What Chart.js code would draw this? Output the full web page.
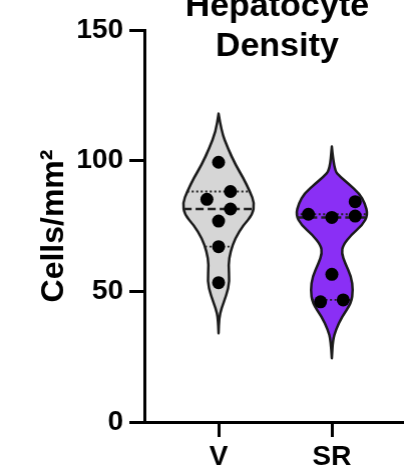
<!DOCTYPE html>
<html>
<head>
<meta charset="utf-8">
<script src="https://cdn.jsdelivr.net/npm/chart.js@4"></script>
<style>
  html, body { margin: 0; padding: 0; background: #fff; overflow: hidden; }
  #wrap { width: 410.5px; height: 469px; }
</style>
</head>
<body>
<div id="wrap"><canvas id="chart"></canvas></div>
<script>
// Hepatocyte density violin plot (V vs SR)
const groups = ['V', 'SR'];
const titleLines = ['Hepatocyte', 'Density'];
const yTicks = [0, 50, 100, 150];

// individual animals
const vValues = [99.4, 88.2, 85.2, 81.5, 76.9, 67.1, 53.3];
const vJitter = [0, 0.105, -0.103, 0.105, 0, 0, 0];
const srValues = [84.3, 79.5, 78.3, 78.8, 56.5, 46.0, 46.7];
const srJitter = [0.206, -0.207, 0, 0.206, 0, -0.10, 0.10];

// summary lines
const medians = [81.5, 78.3];
const lowerQuartiles = [67.1, 46.7];
const upperQuartiles = [88.2, 79.5];

// violin outlines: value levels and relative half width
const vProfileY = [118.0, 111.1, 104.7, 98.4, 93.3, 88.2, 83.7, 79.2, 75.4, 70.3, 65.2, 60.1, 53.7, 48.6, 43.5, 39.7, 34.0];
const vProfileW = [0, 0.08, 0.26, 0.47, 0.69, 0.87, 1.0, 0.94, 0.69, 0.46, 0.33, 0.27, 0.31, 0.22, 0.08, 0.015, 0];
const srProfileY = [105.4, 96.4, 93.9, 91.3, 87.5, 83.7, 79.2, 75.4, 71.6, 67.7, 64.6, 60.7, 55.6, 50.5, 45.4, 40.3, 35.2, 31.4, 24.4];
const srProfileW = [0, 0.06, 0.23, 0.45, 0.76, 0.92, 1.0, 0.85, 0.54, 0.31, 0.27, 0.37, 0.54, 0.59, 0.54, 0.28, 0.11, 0.03, 0];

const FONT = '"Liberation Sans", Arial, Helvetica, sans-serif';
const violinFills = ['#d6d6d6', '#8a2ff5'];
const halfWidth = 0.318; // in x-axis units

const profiles = [
  { ys: vProfileY, ws: vProfileW },
  { ys: srProfileY, ws: srProfileW }
];

function widthAt(p, v){
  for (let i = 0; i < p.ys.length - 1; i++){
    const a = p.ys[i], b = p.ys[i+1];
    if (v <= a && v >= b){
      const t = (a - v) / (a - b);
      return p.ws[i] + (p.ws[i+1] - p.ws[i]) * t;
    }
  }
  return 0;
}

function smoothThrough(ctx, pts){
  ctx.lineTo(pts[0].x, pts[0].y);
  for (let i = 1; i < pts.length - 1; i++){
    const mx = (pts[i].x + pts[i+1].x) / 2, my = (pts[i].y + pts[i+1].y) / 2;
    ctx.quadraticCurveTo(pts[i].x, pts[i].y, mx, my);
  }
  const last = pts[pts.length - 1];
  ctx.lineTo(last.x, last.y);
}

const violinPlugin = {
  id: 'violins',
  beforeDatasetsDraw(chart){
    const {ctx, scales: {x, y}} = chart;
    profiles.forEach((p, gi) => {
      const c = gi + 1;
      const right = p.ys.map((v, i) => ({ x: x.getPixelForValue(c + p.ws[i] * halfWidth), y: y.getPixelForValue(v) }));
      const left = p.ys.map((v, i) => ({ x: x.getPixelForValue(c - p.ws[i] * halfWidth), y: y.getPixelForValue(v) })).reverse();
      ctx.save();
      ctx.beginPath();
      ctx.moveTo(right[0].x, right[0].y);
      smoothThrough(ctx, right);
      smoothThrough(ctx, left);
      ctx.closePath();
      ctx.fillStyle = violinFills[gi];
      ctx.fill();
      ctx.lineWidth = 2.5;
      ctx.lineJoin = 'round';
      ctx.strokeStyle = '#1a1a1a';
      ctx.stroke();

      const seg = (v, dash, lw) => {
        const w = widthAt(p, v) * halfWidth;
        ctx.beginPath();
        ctx.setLineDash(dash);
        ctx.lineWidth = lw;
        ctx.moveTo(x.getPixelForValue(c - w), y.getPixelForValue(v));
        ctx.lineTo(x.getPixelForValue(c + w), y.getPixelForValue(v));
        ctx.stroke();
      };
      ctx.strokeStyle = '#222';
      seg(upperQuartiles[gi], [2, 2.5], 1.8);
      seg(lowerQuartiles[gi], [2, 2.5], 1.8);
      seg(medians[gi], [8, 4], 2.5);
      ctx.restore();
    });
  },
  afterDraw(chart){
    const {ctx, scales: {x}} = chart;
    const cx = x.getPixelForValue(1.5) + 2;
    ctx.save();
    ctx.fillStyle = '#000';
    ctx.font = 'bold 34px ' + FONT;
    ctx.textAlign = 'center';
    ctx.textBaseline = 'alphabetic';
    ctx.fillText(titleLines[0], cx, 16);
    ctx.fillText(titleLines[1], cx, 56);
    ctx.restore();
  }
};

const toPts = (vals, jit, c) => vals.map((v, i) => ({ x: c + jit[i], y: v }));

new Chart(document.getElementById('chart'), {
  type: 'scatter',
  data: {
    datasets: [
      { label: groups[0], data: toPts(vValues, vJitter, 1) },
      { label: groups[1], data: toPts(srValues, srJitter, 2) }
    ]
  },
  options: {
    responsive: true,
    maintainAspectRatio: false,
    animation: false,
    layout: { padding: { top: 30, right: 0, left: 0, bottom: 0 } },
    elements: { point: { radius: 6.5, backgroundColor: '#000', borderWidth: 0, hoverRadius: 6.5 } },
    plugins: { legend: { display: false }, tooltip: { enabled: false } },
    scales: {
      x: {
        type: 'linear',
        min: 0.345,
        max: 2.646,
        afterBuildTicks: s => { s.ticks = [{ value: 1 }, { value: 2 }]; },
        afterFit: s => { s.height = 47; },
        grid: { drawOnChartArea: false, tickLength: 15, tickWidth: 3, tickColor: '#000' },
        border: { color: '#000', width: 3 },
        ticks: {
          color: '#000', padding: 3,
          font: { family: FONT, size: 28, weight: 'bold' },
          callback: v => groups[v - 1] || ''
        }
      },
      y: {
        min: 0,
        max: 150,
        afterBuildTicks: s => { s.ticks = yTicks.map(v => ({ value: v })); },
        afterFit: s => { s.width = 144; },
        grid: { drawOnChartArea: false, tickLength: 15, tickWidth: 3, tickColor: '#000' },
        border: { color: '#000', width: 3 },
        ticks: { color: '#000', padding: 6, font: { family: FONT, size: 28, weight: 'bold' } },
        title: {
          display: true,
          text: 'Cells/mm²',
          color: '#000',
          font: { family: FONT, size: 32, weight: 'bold' },
          padding: { top: 35, bottom: 0 }
        }
      }
    }
  },
  plugins: [violinPlugin]
});
</script>
</body>
</html>
